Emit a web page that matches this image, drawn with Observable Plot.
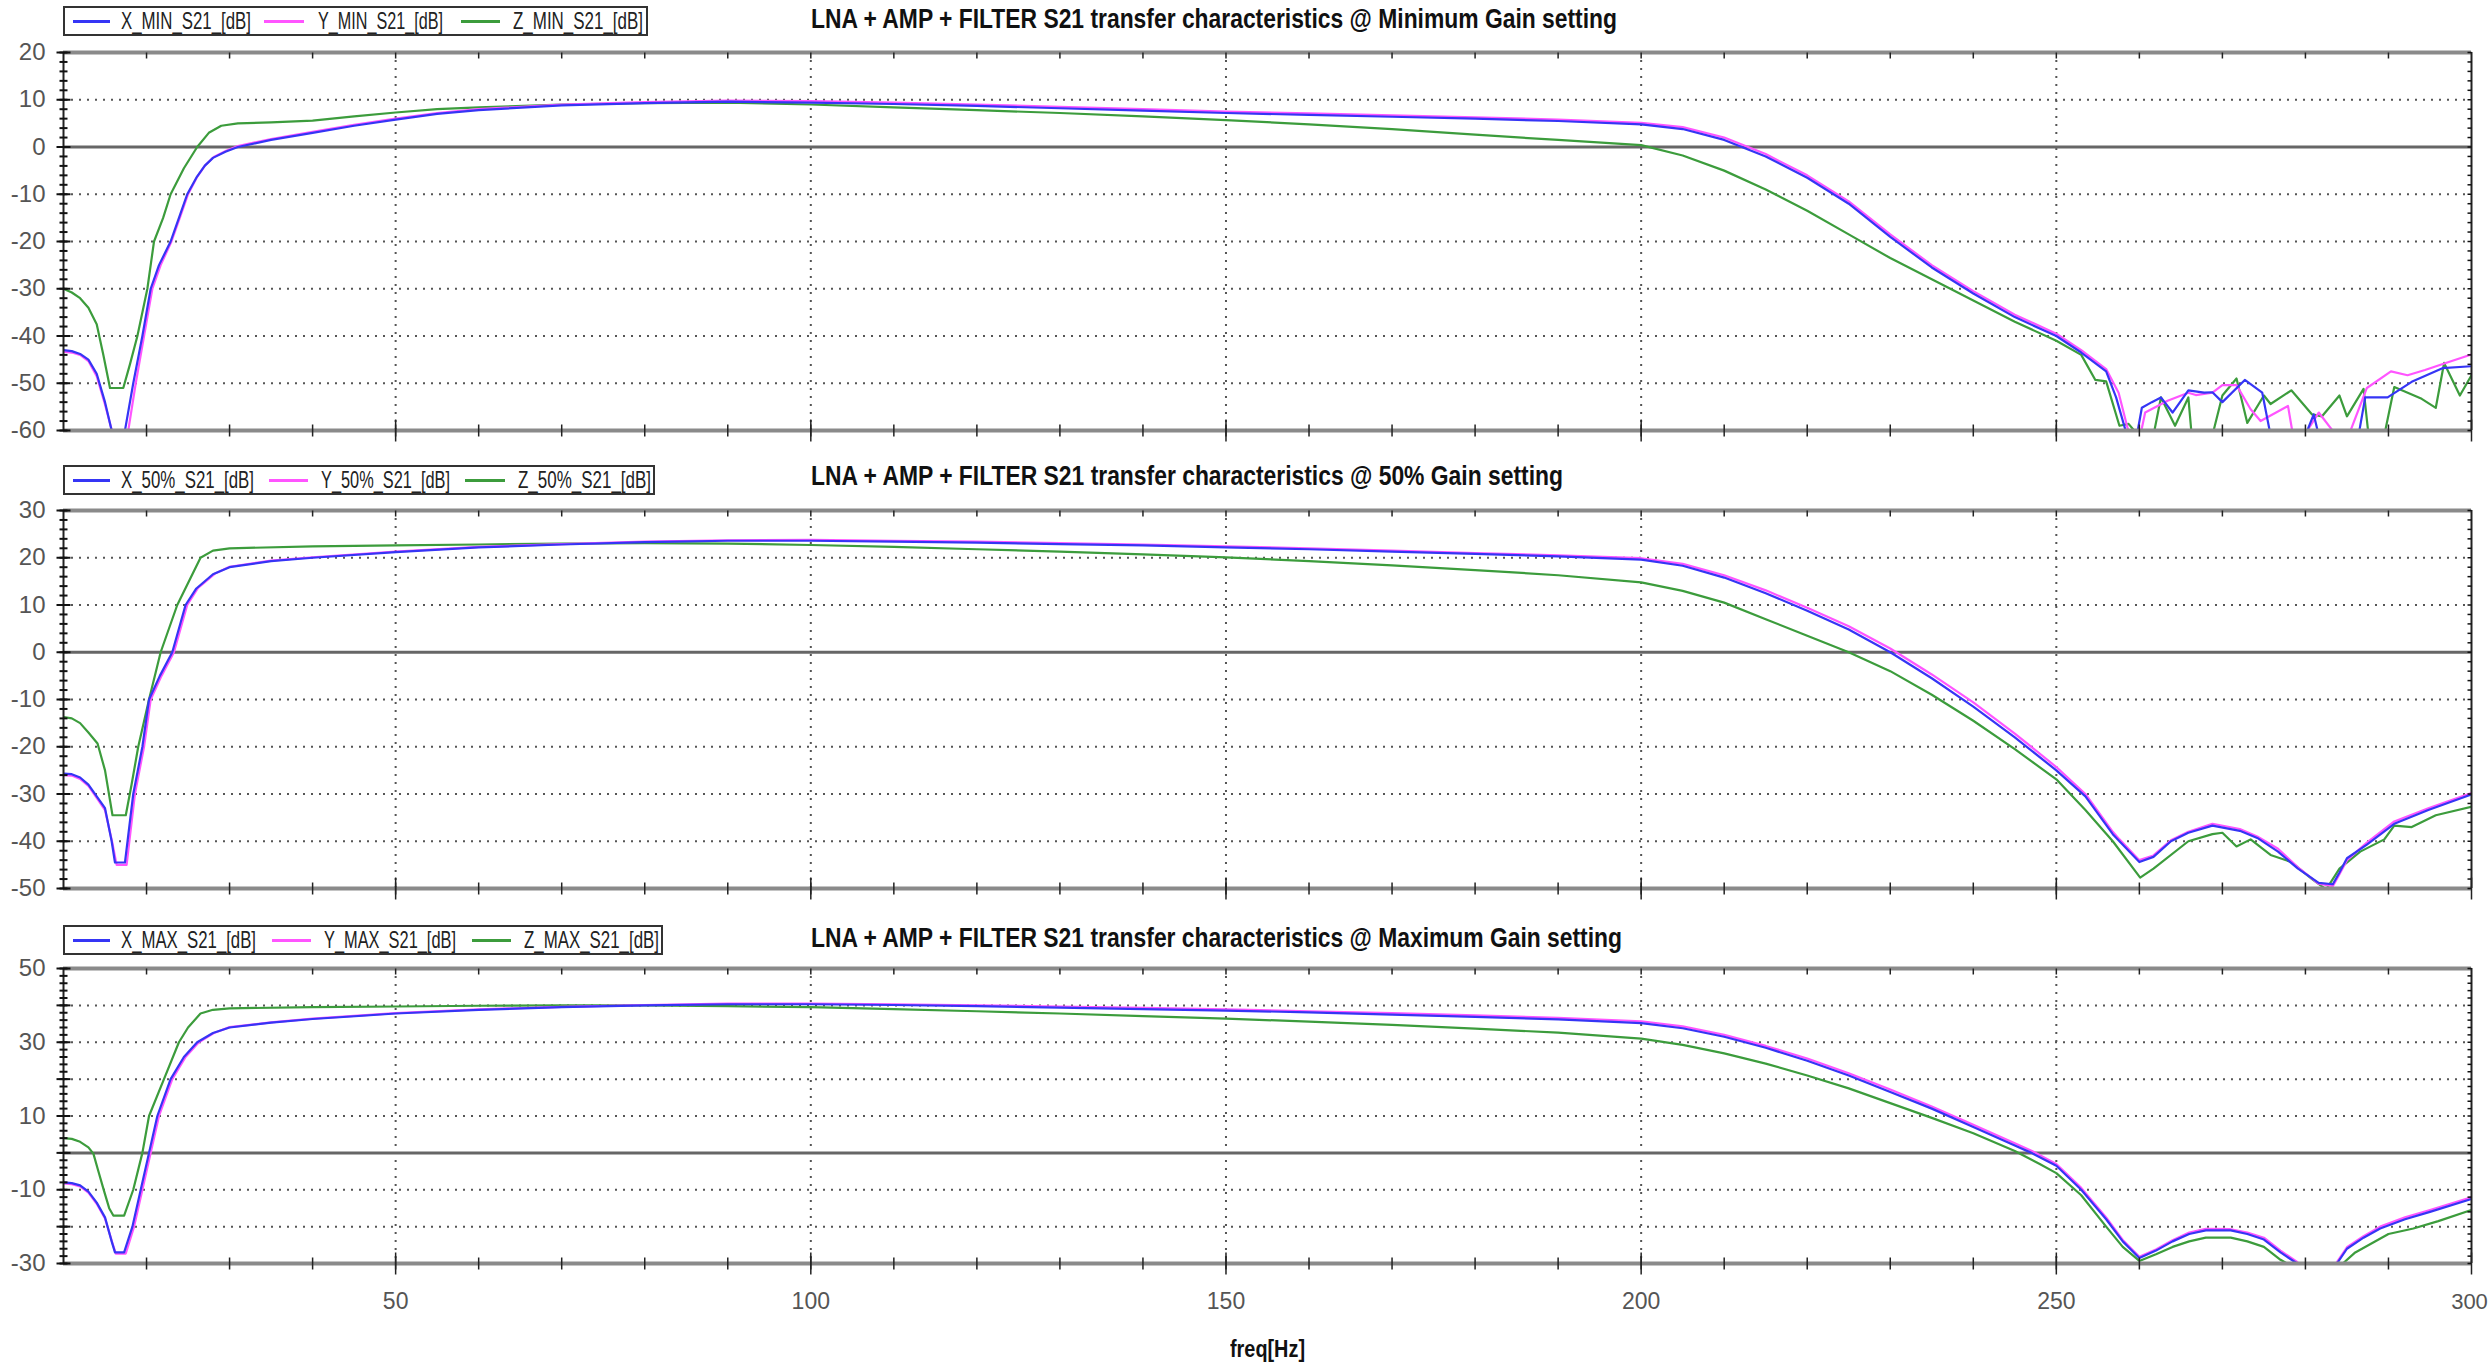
<!DOCTYPE html>
<html><head><meta charset="utf-8">
<script src="https://cdn.jsdelivr.net/npm/d3@7"></script>
<script src="https://cdn.jsdelivr.net/npm/@observablehq/plot@0.6"></script>
<style>
html,body{margin:0;padding:0;background:#fff;}
#root{position:relative;width:2488px;height:1366px;overflow:hidden;background:#fff;font-family:'Liberation Sans','Arial',sans-serif;}
.panel{position:absolute;left:0;}
.title{position:absolute;font-weight:bold;font-size:27px;color:#111;white-space:nowrap;transform-origin:0 50%;line-height:1;}
.legend{position:absolute;border:2px solid #333;background:#fff;box-sizing:border-box;}
.legend .ln{position:absolute;height:3px;top:12px;}
.legend .tx{position:absolute;top:0px;font-size:24px;color:#222;white-space:nowrap;transform-origin:0 50%;line-height:1.1;}
.xlabel{position:absolute;font-weight:bold;font-size:23px;color:#111;white-space:nowrap;transform-origin:0 50%;line-height:1;}
</style></head>
<body><div id="root"></div>
<script>
// ---------- DATA ----------
const freqTicks = [50, 100, 150, 200, 250];
const lastFreqTick = [300];
const seriesColors = {X: "#3535f5", Y: "#ff55ff", Z: "#3c9c3c"};

const titles = [
  "LNA + AMP + FILTER S21 transfer characteristics @ Minimum Gain setting",
  "LNA + AMP + FILTER S21 transfer characteristics @ 50% Gain setting",
  "LNA + AMP + FILTER S21 transfer characteristics @ Maximum Gain setting"
];
const legendMin = ["X_MIN_S21_[dB]", "Y_MIN_S21_[dB]", "Z_MIN_S21_[dB]"];
const legend50  = ["X_50%_S21_[dB]", "Y_50%_S21_[dB]", "Z_50%_S21_[dB]"];
const legendMax = ["X_MAX_S21_[dB]", "Y_MAX_S21_[dB]", "Z_MAX_S21_[dB]"];

const yLabelsMin = [20, 10, 0, -10, -20, -30, -40, -50, -60];
const yLabels50  = [30, 20, 10, 0, -10, -20, -30, -40, -50];
const yLabelsMax = [50, 30, 10, -10, -30];

// [freq Hz, dB]
const X_MIN = [[10,-43],[11,-43.2],[12,-43.8],[13,-45],[14,-48],[15,-54],[15.8,-60],[16.5,-63],[17.4,-60],[18.4,-50],[19.5,-40],[20.5,-30],[21.5,-25],[22.9,-20],[24,-14.5],[24.9,-10],[26,-6.5],[27,-4],[28,-2.3],[29.5,-1],[31,0],[35,1.5],[40,3],[45,4.5],[50,5.8],[55,7],[60,7.8],[70,8.8],[80,9.3],[90,9.6],[100,9.4],[110,9.1],[120,8.7],[130,8.2],[140,7.7],[150,7.2],[160,6.8],[170,6.4],[180,6],[190,5.5],[200,4.8],[205,3.8],[210,1.5],[215,-2],[220,-6.5],[225,-12],[230,-19],[235,-25.5],[240,-31],[245,-36],[250,-40],[253,-43.5],[256,-47.5],[257.2,-53],[258.5,-61],[259.5,-63],[260.3,-55.2],[261.5,-54],[262.6,-53],[264,-56.2],[265.9,-51.5],[267.8,-52],[268.8,-51.9],[270,-54],[272.7,-49.3],[274.8,-52],[275.8,-61],[278,-63],[280,-61],[281,-56.6],[281.6,-61],[284,-63],[286.4,-61],[287.2,-53],[289.9,-53],[292.8,-49.7],[296.5,-46.8],[300,-46.4]];
const Y_MIN = [[10,-43.3],[11,-43.5],[12,-44],[13,-45.3],[14,-48.5],[15,-54.5],[15.9,-60.5],[16.8,-63.5],[17.8,-60],[18.7,-50],[19.7,-40],[20.7,-30],[21.7,-25],[23,-20],[24.1,-14.5],[25,-10],[26.1,-6.3],[27.1,-3.8],[28.1,-2.1],[29.6,-0.8],[31,0.2],[35,1.7],[40,3.2],[45,4.7],[50,6],[55,7.2],[60,8],[70,9],[80,9.5],[90,9.8],[100,9.7],[110,9.4],[120,9],[130,8.5],[140,8],[150,7.5],[160,7.1],[170,6.7],[180,6.3],[190,5.8],[200,5.1],[205,4.2],[210,2],[215,-1.5],[220,-6],[225,-11.5],[230,-18.5],[235,-25],[240,-30.5],[245,-35.5],[250,-39.5],[253,-43],[256,-47],[257.5,-52],[258.8,-61],[260,-62],[260.7,-56.2],[263.4,-53.7],[265.9,-52],[266.8,-52.5],[268.8,-52],[270,-50.4],[271.7,-50.4],[273.4,-55.5],[274.6,-58],[277.9,-54.8],[278.5,-61],[279.5,-62],[281.6,-56.2],[283.7,-61],[285,-62],[287.4,-51],[290.3,-47.5],[292.3,-48.3],[294.4,-47.2],[296.9,-45.7],[300,-43.9]];
const Z_MIN = [[10,-30],[11,-30.8],[12,-32],[13,-34],[14,-37.5],[14.8,-44],[15.6,-51],[17.2,-51],[18,-46],[18.9,-40],[20.1,-30],[20.9,-20],[22,-15],[22.9,-10],[24.5,-4.5],[26.1,0],[27.5,3],[29,4.5],[31,5],[35,5.2],[40,5.6],[45,6.5],[50,7.3],[55,8],[60,8.4],[70,9],[80,9.3],[90,9.4],[100,9],[110,8.4],[120,7.8],[130,7.2],[140,6.5],[150,5.7],[160,4.8],[170,3.8],[180,2.6],[190,1.5],[200,0.4],[205,-1.8],[210,-5],[215,-9],[220,-13.5],[225,-18.5],[230,-23.5],[235,-28],[240,-32.5],[245,-37],[250,-41],[253,-44],[254.7,-49.3],[256,-49.6],[257.6,-59],[258.7,-58.6],[260.1,-61.5],[261.7,-61],[262.6,-53],[264.3,-59],[265.9,-53],[266.3,-61],[268.8,-61],[270,-52.6],[271.7,-49],[273,-58.4],[275,-52.6],[275.8,-54.4],[278.3,-51.5],[280.8,-56.6],[282,-57],[284.1,-52.6],[285,-57],[287,-51.2],[287.6,-61],[289.5,-61],[290.7,-50.8],[294,-53.3],[295.7,-55.2],[296.7,-45.7],[298.6,-52.6],[300,-48.3]];

const X_50 = [[10,-25.7],[11,-25.8],[12,-26.5],[13,-28],[14,-30.5],[15,-33],[15.8,-40],[16.2,-44.5],[17.4,-44.5],[18.4,-30],[19.5,-20],[20.3,-10],[21.6,-5],[23.1,0],[24.7,10],[26,13.5],[28,16.5],[30,18],[35,19.3],[40,20],[50,21.2],[60,22.2],[70,22.8],[80,23.3],[90,23.6],[100,23.6],[110,23.4],[120,23.2],[130,22.9],[140,22.6],[150,22.2],[160,21.8],[170,21.3],[180,20.8],[190,20.3],[200,19.6],[205,18.3],[210,15.8],[215,12.5],[220,8.8],[225,4.8],[230,0],[235,-5.5],[240,-11.5],[245,-18],[250,-25],[253.5,-30.5],[256.8,-38.5],[257.6,-40],[260,-44.4],[261.7,-43.3],[263.8,-40],[265.9,-38.2],[268.8,-36.7],[272.1,-37.8],[274.2,-39.3],[276.7,-42.2],[279.1,-45.8],[281.6,-48.8],[283.3,-49.1],[284.1,-46.6],[285,-43.6],[287.4,-40.7],[290.7,-36.3],[294.8,-33.4],[300,-30.1]];
const Y_50 = [[10,-26],[11,-26.1],[12,-26.8],[13,-28.3],[14,-30.8],[15,-33.4],[15.9,-40.5],[16.4,-45],[17.6,-45],[18.6,-30],[19.7,-20],[20.5,-10],[21.8,-5],[23.3,0],[24.9,10],[26.2,13.6],[28.2,16.6],[30,18.1],[35,19.4],[40,20.1],[50,21.3],[60,22.3],[70,22.9],[80,23.4],[90,23.7],[100,23.8],[110,23.6],[120,23.4],[130,23.1],[140,22.8],[150,22.4],[160,22],[170,21.5],[180,21],[190,20.5],[200,19.9],[205,18.7],[210,16.3],[215,13.1],[220,9.4],[225,5.5],[230,0.8],[235,-4.7],[240,-10.6],[245,-17.2],[250,-24.3],[253.5,-30],[256.8,-38],[257.6,-39.6],[260,-44],[261.7,-43],[263.8,-39.8],[265.9,-38],[268.8,-36.3],[272.1,-37.4],[274.2,-39],[276.7,-41.6],[279.1,-45.5],[281.6,-49],[283.3,-49.5],[284.1,-47],[285,-44],[287.4,-40.3],[290.7,-35.8],[294.8,-33],[300,-29.8]];
const Z_50 = [[10,-13.7],[11,-14],[12,-15],[13,-17],[14.1,-19.3],[15,-25],[15.9,-34.5],[17.5,-34.5],[18.2,-28],[19,-20],[20.3,-10],[21.7,0],[23.7,10],[26.5,20],[28,21.5],[30,22],[40,22.4],[50,22.6],[60,22.8],[70,23],[80,23.1],[90,23],[100,22.7],[110,22.3],[120,21.8],[130,21.3],[140,20.7],[150,20.1],[160,19.3],[170,18.4],[180,17.4],[190,16.3],[200,14.8],[205,13],[210,10.5],[215,7],[220,3.5],[225,0],[230,-4],[235,-9],[240,-14.5],[245,-20.5],[250,-26.9],[253.5,-33.4],[256.8,-40],[260.1,-47.7],[261.7,-45.8],[265.9,-40],[268.8,-38.5],[270,-38.2],[271.7,-41.1],[273.4,-39.6],[275.8,-42.9],[278.3,-44.4],[280.8,-48],[282.5,-50.2],[284.1,-45.8],[286.6,-42.2],[289.5,-39.6],[290.7,-36.7],[292.8,-37],[295.7,-34.5],[300,-32.7]];

const X_MAX = [[10,-8],[11,-8.2],[12,-8.8],[13,-10.5],[14,-13.5],[15,-17.5],[15.8,-24],[16.2,-27],[17.3,-27],[18.3,-20],[19.3,-10],[20.3,0],[21.3,10],[22.9,20],[24.5,26],[26.1,30],[28,32.5],[30,34],[35,35.3],[40,36.3],[50,37.8],[60,38.8],[70,39.5],[80,40],[90,40.3],[100,40.3],[110,40.1],[120,39.8],[130,39.4],[140,39],[150,38.6],[160,38.1],[170,37.5],[180,36.9],[190,36.2],[200,35.2],[205,33.8],[210,31.5],[215,28.5],[220,25],[225,21],[230,16.5],[235,12],[240,7],[245,2],[247,0],[250,-3.5],[253,-10],[256,-18],[258,-24],[260,-28.5],[262,-26.5],[264,-24],[266,-22],[268,-21],[271,-21],[273,-22],[275,-23.5],[277,-27],[279,-30],[280,-32],[282,-34],[283.5,-31],[285,-26],[287,-23],[289,-20.5],[292,-18],[295,-16],[300,-12.5]];
const Y_MAX = [[10,-8.3],[11,-8.5],[12,-9.1],[13,-10.8],[14,-13.8],[15,-17.8],[15.9,-24.5],[16.3,-27.3],[17.5,-27.3],[18.5,-20],[19.5,-10],[20.5,0],[21.5,10],[23.1,20],[24.7,26],[26.3,30],[28.2,32.6],[30,34.1],[35,35.4],[40,36.4],[50,37.9],[60,38.9],[70,39.6],[80,40.1],[90,40.5],[100,40.5],[110,40.3],[120,40],[130,39.7],[140,39.3],[150,38.9],[160,38.4],[170,37.9],[180,37.3],[190,36.6],[200,35.7],[205,34.3],[210,32],[215,29],[220,25.6],[225,21.6],[230,17.2],[235,12.6],[240,7.6],[245,2.6],[247,0.6],[250,-3],[253,-9.5],[256,-17.5],[258,-23.6],[260,-28.2],[262,-26.2],[264,-23.7],[266,-21.6],[268,-20.6],[271,-20.7],[273,-21.6],[275,-23],[277,-26.5],[279,-29.6],[280,-31.5],[282,-33.6],[283.5,-30.6],[285,-25.6],[287,-22.6],[289,-20],[292,-17.5],[295,-15.5],[300,-12]];
const Z_MAX = [[10,4],[11,3.8],[12,3],[13,1.5],[13.6,-0.2],[14.2,-5],[14.8,-9.7],[15.5,-15],[16,-17],[17.3,-17],[18.4,-10],[19.5,0],[20.3,10],[22.1,20],[23.9,30],[25,34],[26.5,37.8],[28,38.8],[30,39.2],[40,39.5],[50,39.7],[60,39.9],[70,40],[80,40],[90,39.8],[100,39.5],[110,39],[120,38.4],[130,37.8],[140,37.1],[150,36.4],[160,35.6],[170,34.7],[180,33.7],[190,32.6],[200,31],[205,29.3],[210,27],[215,24.2],[220,21],[225,17.5],[230,13.5],[235,9.5],[240,5.3],[245,0.5],[248,-3],[250,-5.5],[253,-11.5],[256,-20],[258,-25.5],[260,-29.3],[262,-27.5],[264,-25.5],[266,-24],[268,-23],[271,-23],[273,-24],[275,-25.5],[277,-29],[279,-31.5],[281,-34],[283,-33],[284.5,-30],[286,-27],[288,-24.5],[290,-22],[293,-20.5],[296,-18.5],[300,-15.5]];

// ---------- LAYOUT ----------
const W = 2488, ML = 63, MR = 17;
const root = document.getElementById("root");

function sym(fn){ return {draw(ctx, size){ const r = Math.sqrt(size/Math.PI); fn(ctx, r); }}; }
const hCross = sym((c,r)=>{c.moveTo(-r,0);c.lineTo(r,0);});
const hLeft  = sym((c,r)=>{c.moveTo(-r,0);c.lineTo(0,0);});
const vCross = sym((c,r)=>{c.moveTo(0,-r);c.lineTo(0,r);});
const vDown  = sym((c,r)=>{c.moveTo(0,0);c.lineTo(0,r);});

function fitText(el, target){
  el.style.display = "inline-block";
  const w = el.getBoundingClientRect().width;
  if (w > 0) el.style.transform = `scaleX(${target / w})`;
}

function addPanel(cfg){
  const {plotTop, plotH, y0, y1, labels, X, Y, Z, showX} = cfg;
  const mT = 20, mB = showX ? 110 : 20;
  const grid = d3.range(y0 + 10, y1, 10).filter(v => v !== 0);
  const yMinor = d3.range(y0, y1 + 0.001, 2);
  const yMajor = d3.range(y0, y1 + 0.001, 10);
  const xMinor = d3.range(20, 300, 10);
  const marks = [
    Plot.ruleY(grid, {stroke: "#555", strokeWidth: 2, strokeDasharray: "2,6"}),
    Plot.ruleX([50, 100, 150, 200, 250], {stroke: "#555", strokeWidth: 2, strokeDasharray: "2,6"}),
    Plot.ruleY([0], {stroke: "#666", strokeWidth: 3}),
    Plot.line(Z, {x: d => d[0], y: d => d[1], stroke: seriesColors.Z, strokeWidth: 2.2, clip: true}),
    Plot.line(Y, {x: d => d[0], y: d => d[1], stroke: seriesColors.Y, strokeWidth: 2.2, clip: true}),
    Plot.line(X, {x: d => d[0], y: d => d[1], stroke: seriesColors.X, strokeWidth: 2.2, clip: true}),
    Plot.ruleY([y0, y1], {stroke: "#8a8a8a", strokeWidth: 4}),
    Plot.ruleX([10, 300], {stroke: "#222", strokeWidth: 2}),
    Plot.dot(yMinor, {x: 10, y: d => d, symbol: hCross, r: 4, stroke: "#111", strokeWidth: 2, fill: "none"}),
    Plot.dot(yMajor, {x: 10, y: d => d, symbol: hCross, r: 7, stroke: "#111", strokeWidth: 2, fill: "none"}),
    Plot.dot(yMinor, {x: 300, y: d => d, symbol: hLeft, r: 4, stroke: "#111", strokeWidth: 1.5, fill: "none"}),
    Plot.dot(xMinor, {x: d => d, y: y0, symbol: vCross, r: 6, stroke: "#222", strokeWidth: 1.5, fill: "none"}),
    Plot.dot([50,100,150,200,250,300], {x: d => d, y: y0, symbol: vCross, r: 11, stroke: "#222", strokeWidth: 1.5, fill: "none"}),
    Plot.dot(xMinor, {x: d => d, y: y1, symbol: vDown, r: 6, stroke: "#222", strokeWidth: 1.5, fill: "none"}),
    Plot.text(labels, {x: 10, y: d => d, text: d => String(d), textAnchor: "end", dx: -18, fontSize: 24, fill: "#555"})
  ];
  if (showX) {
    marks.push(Plot.text(freqTicks, {x: d => d, y: y0, text: d => String(d), dy: 38, fontSize: 23, fill: "#555"}));
    marks.push(Plot.text(lastFreqTick, {x: d => d, y: y0, text: d => String(d), dy: 38, dx: -2, textAnchor: "middle", fontSize: 22, fill: "#555"}));
  }
  const svg = Plot.plot({
    width: W, height: plotH + mT + mB,
    marginLeft: ML, marginRight: MR, marginTop: mT, marginBottom: mB,
    style: {fontFamily: "'Liberation Sans Narrow','Liberation Sans',sans-serif", background: "white", overflow: "visible"},
    x: {type: "linear", domain: [10, 300], axis: null},
    y: {type: "linear", domain: [y0, y1], axis: null},
    marks
  });
  svg.classList.add("panel");
  svg.style.top = (plotTop - mT) + "px";
  root.appendChild(svg);
}

function addTitle(text, left, cy, width){
  const el = document.createElement("div");
  el.className = "title"; el.textContent = text;
  root.appendChild(el);
  fitText(el, width);
  el.style.left = left + "px";
  el.style.top = (cy - el.getBoundingClientRect().height / 2) + "px";
}

function addLegend(names, box, items){
  const b = document.createElement("div");
  b.className = "legend";
  b.style.left = box[0] + "px"; b.style.top = box[1] + "px";
  b.style.width = (box[2] - box[0]) + "px"; b.style.height = (box[3] - box[1]) + "px";
  root.appendChild(b);
  const cols = [seriesColors.X, seriesColors.Y, seriesColors.Z];
  names.forEach((n, i) => {
    const it = items[i];
    const ln = document.createElement("div");
    ln.className = "ln"; ln.style.background = cols[i];
    ln.style.left = (it[0] - box[0]) + "px"; ln.style.width = (it[1] - it[0]) + "px";
    b.appendChild(ln);
    const tx = document.createElement("div");
    tx.className = "tx"; tx.textContent = n;
    b.appendChild(tx);
    fitText(tx, it[3] - it[2]);
    tx.style.left = (it[2] - box[0]) + "px";
  });
}

addPanel({plotTop: 52, plotH: 378, y0: -60, y1: 20, labels: yLabelsMin, X: X_MIN, Y: Y_MIN, Z: Z_MIN, showX: false});
addPanel({plotTop: 510, plotH: 378, y0: -50, y1: 30, labels: yLabels50, X: X_50, Y: Y_50, Z: Z_50, showX: false});
addPanel({plotTop: 968, plotH: 295, y0: -30, y1: 50, labels: yLabelsMax, X: X_MAX, Y: Y_MAX, Z: Z_MAX, showX: true});

addTitle(titles[0], 811, 19, 806);
addTitle(titles[1], 811, 476, 752);
addTitle(titles[2], 811, 938, 811);

addLegend(legendMin, [63, 6, 648, 36], [[71,108,119,249],[262,302,316,441],[459,498,511,641]]);
addLegend(legend50,  [63, 465, 655, 495], [[71,108,119,252],[267,306,319,448],[463,503,516,649]]);
addLegend(legendMax, [63, 925, 663, 955], [[71,108,119,254],[270,309,322,454],[470,509,522,657]]);

const xl = document.createElement("div");
xl.className = "xlabel"; xl.textContent = "freq[Hz]";
root.appendChild(xl);
fitText(xl, 75);
xl.style.left = "1230px";
xl.style.top = (1349 - xl.getBoundingClientRect().height / 2) + "px";
</script>
</body></html>
